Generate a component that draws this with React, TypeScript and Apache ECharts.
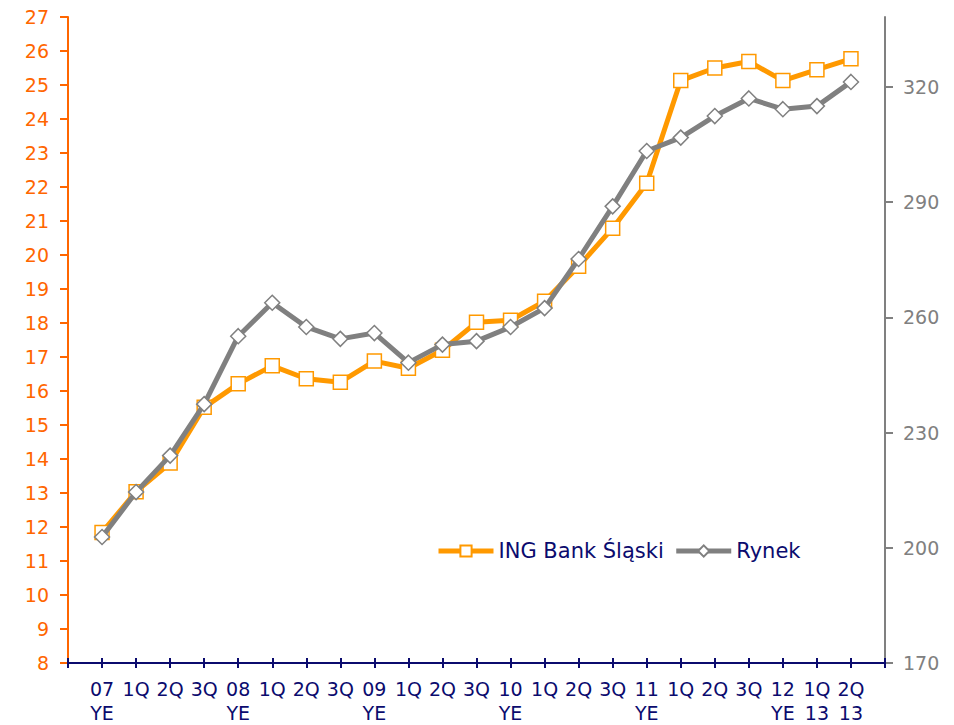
import React, { useEffect, useRef } from "react";
import * as echarts from "echarts";

const categories = [
  "07\nYE", "1Q", "2Q", "3Q", "08\nYE", "1Q", "2Q", "3Q", "09\nYE", "1Q", "2Q", "3Q",
  "10\nYE", "1Q", "2Q", "3Q", "11\nYE", "1Q", "2Q", "3Q", "12\nYE", "1Q\n13", "2Q\n13",
];
const ingValues = [
  11.84, 13.04, 13.88, 15.52, 16.21, 16.74, 16.36, 16.26, 16.88, 16.67, 17.2, 18.02,
  18.08, 18.64, 19.67, 20.79, 22.11, 25.13, 25.5, 25.69, 25.13, 25.45, 25.77,
];
const rynekValues = [
  202.8, 214.5, 224.0, 237.4, 255.1, 263.8, 257.5, 254.4, 255.9, 248.2, 252.9, 253.8,
  257.5, 262.4, 275.2, 288.9, 303.3, 306.8, 312.4, 317.0, 314.2, 315.0, 321.3,
];
const rightTicks = [170, 200, 230, 260, 290, 320];
const seriesNames = ["ING Bank Śląski", "Rynek"];

const FONT = "DejaVu Sans";
const NAVY = "#0B0B6E";
const ORANGE = "#FF9900";
const AXIS_ORANGE = "#FF6600";
const GRAY = "#808080";

export default function App() {
  const ref = useRef<HTMLDivElement>(null);
  useEffect(() => {
    if (!ref.current) return;
    const chart = echarts.init(ref.current, null, { renderer: "svg" });
    const cats = ["", ...categories, ""];
    const pad = (a: number[]) => [null, ...a, null];
    chart.setOption({
      animation: false,
      backgroundColor: "#ffffff",
      grid: { left: 68, right: 69, top: 17, bottom: 59, containLabel: false },
      legend: {
        left: 431,
        top: 534,
        itemWidth: 55,
        itemHeight: 14,
        itemGap: 10,
        lineStyle: { width: 5 },
        textStyle: { color: NAVY, fontSize: 21, fontFamily: FONT, lineHeight: 24 },
        data: seriesNames,
      },
      xAxis: [
        {
          type: "category",
          data: cats,
          boundaryGap: false,
          axisLine: { lineStyle: { color: NAVY, width: 2 } },
          axisTick: { show: true, length: 5, alignWithLabel: true, lineStyle: { color: NAVY, width: 2 } },
          axisLabel: {
            color: NAVY,
            fontSize: 19,
            fontFamily: FONT,
            lineHeight: 24,
            margin: 14,
            interval: 0,
          },
          splitLine: { show: false },
        },
        {
          type: "category",
          data: cats,
          boundaryGap: false,
          position: "bottom",
          axisLine: { show: false },
          axisTick: { show: true, inside: true, length: 5, lineStyle: { color: NAVY, width: 2 } },
          axisLabel: { show: false },
          splitLine: { show: false },
        },
      ],
      yAxis: [
        {
          type: "value",
          min: 8,
          max: 27,
          interval: 1,
          position: "left",
          axisLine: { show: true, lineStyle: { color: AXIS_ORANGE, width: 2 } },
          axisTick: { show: true, length: 8, lineStyle: { color: AXIS_ORANGE, width: 2 } },
          axisLabel: { color: AXIS_ORANGE, fontSize: 19, fontFamily: FONT, margin: 19 },
          splitLine: { show: false },
        },
        {
          type: "value",
          min: 170,
          max: 338.2,
          position: "right",
          axisLine: { show: true, lineStyle: { color: GRAY, width: 2 } },
          axisTick: { show: true, length: 8, customValues: rightTicks, lineStyle: { color: GRAY, width: 2 } },
          axisLabel: { color: GRAY, fontSize: 19, fontFamily: FONT, margin: 18, customValues: rightTicks },
          splitLine: { show: false },
        },
      ],
      series: [
        {
          name: seriesNames[0],
          type: "line",
          xAxisIndex: 0,
          yAxisIndex: 0,
          data: pad(ingValues),
          symbol: "rect",
          symbolSize: 14,
          showAllSymbol: true,
          lineStyle: { color: ORANGE, width: 5 },
          itemStyle: { color: "#ffffff", borderColor: ORANGE, borderWidth: 1.5 },
          z: 2,
        },
        {
          name: seriesNames[1],
          type: "line",
          xAxisIndex: 0,
          yAxisIndex: 1,
          data: pad(rynekValues),
          symbol: "diamond",
          symbolSize: 15,
          showAllSymbol: true,
          lineStyle: { color: GRAY, width: 5 },
          itemStyle: { color: "#ffffff", borderColor: GRAY, borderWidth: 1.5 },
          z: 3,
        },
      ],
    });
    return () => chart.dispose();
  }, []);
  return (
    <div
      ref={ref}
      style={{ position: "fixed", left: 0, top: 0, width: 954, height: 725, background: "#fff" }}
    />
  );
}
